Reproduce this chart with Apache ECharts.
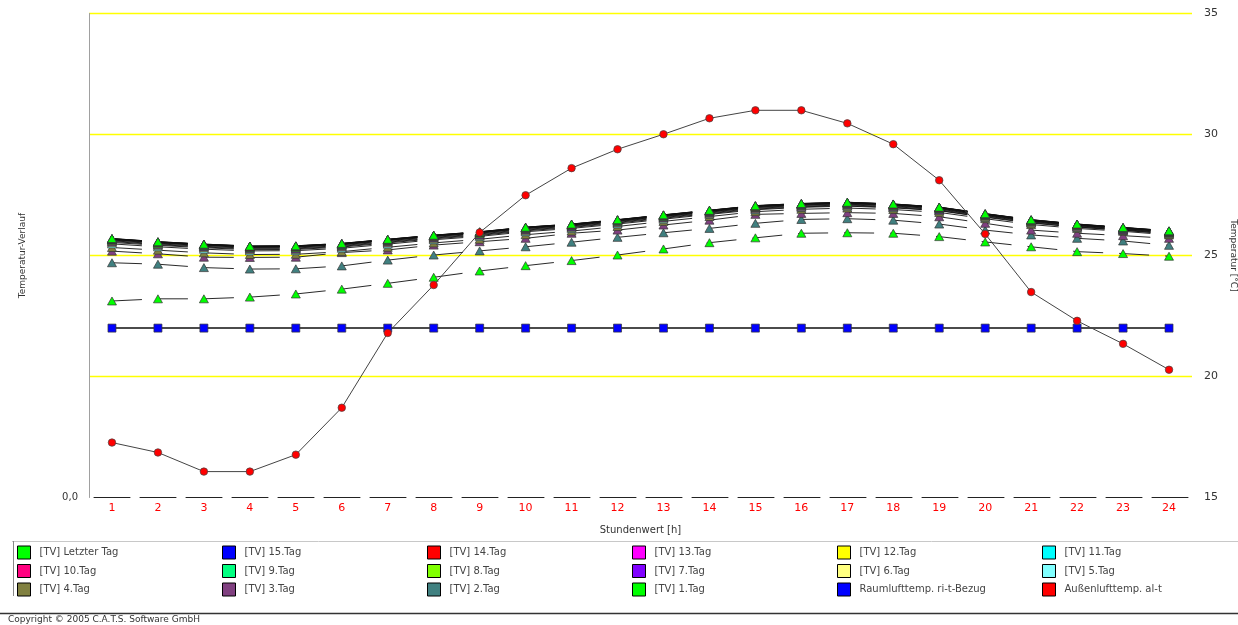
<!DOCTYPE html>
<html><head><meta charset="utf-8">
<script src="https://cdn.jsdelivr.net/npm/echarts@6/dist/echarts.min.js"></script>
<style>html,body{margin:0;padding:0;background:#fff}#c{width:1238px;height:625px}</style>
</head><body><div id="c"></div>
<script>
const hours = ['1','2','3','4','5','6','7','8','9','10','11','12','13','14','15','16','17','18','19','20','21','22','23','24'];
const leftAxisLabels = ['0,0'];

const letzterTag = [25.70,25.57,25.47,25.39,25.40,25.50,25.67,25.84,25.98,26.17,26.30,26.48,26.68,26.87,27.06,27.15,27.20,27.13,27.00,26.73,26.48,26.30,26.16,26.02];
const tag15 = [25.70,25.57,25.47,25.39,25.40,25.50,25.67,25.84,25.98,26.17,26.30,26.48,26.68,26.87,27.06,27.15,27.20,27.13,27.00,26.73,26.48,26.30,26.16,26.02];
const tag14 = [25.69,25.56,25.46,25.38,25.39,25.49,25.66,25.83,25.97,26.16,26.29,26.47,26.67,26.86,27.05,27.14,27.19,27.12,26.99,26.72,26.47,26.29,26.15,26.01];
const tag13 = [25.69,25.56,25.46,25.38,25.39,25.49,25.66,25.83,25.97,26.16,26.29,26.47,26.67,26.86,27.05,27.14,27.19,27.12,26.99,26.72,26.47,26.29,26.15,26.01];
const tag12 = [25.68,25.55,25.45,25.37,25.38,25.48,25.65,25.82,25.96,26.15,26.28,26.46,26.66,26.85,27.04,27.13,27.18,27.11,26.98,26.71,26.46,26.28,26.14,26.00];
const tag11 = [25.67,25.54,25.44,25.36,25.37,25.47,25.64,25.81,25.95,26.14,26.27,26.45,26.65,26.84,27.03,27.12,27.17,27.10,26.97,26.70,26.45,26.27,26.13,25.99];
const tag10 = [25.66,25.53,25.43,25.35,25.36,25.46,25.63,25.80,25.94,26.13,26.26,26.44,26.64,26.83,27.02,27.11,27.16,27.09,26.96,26.69,26.44,26.26,26.12,25.98];
const tag9  = [25.64,25.51,25.41,25.33,25.34,25.44,25.61,25.78,25.92,26.11,26.24,26.42,26.62,26.81,27.00,27.09,27.14,27.07,26.94,26.67,26.43,26.25,26.11,25.97];
const tag8  = [25.61,25.48,25.38,25.30,25.31,25.41,25.58,25.75,25.89,26.08,26.22,26.40,26.60,26.79,26.98,27.07,27.12,27.05,26.92,26.65,26.41,26.23,26.09,25.95];
const tag7  = [25.58,25.45,25.35,25.27,25.28,25.38,25.55,25.72,25.86,26.05,26.19,26.37,26.57,26.76,26.95,27.04,27.09,27.02,26.89,26.63,26.39,26.21,26.07,25.93];
const tag6  = [25.54,25.42,25.32,25.24,25.25,25.35,25.52,25.69,25.83,26.02,26.16,26.34,26.54,26.73,26.92,27.01,27.06,26.99,26.86,26.60,26.36,26.18,26.05,25.91];
const tag5  = [25.48,25.36,25.26,25.19,25.20,25.30,25.47,25.65,25.79,25.98,26.12,26.30,26.50,26.70,26.89,26.99,27.04,26.97,26.85,26.58,26.34,26.17,26.04,25.89];
const tag4  = [25.33,25.22,25.11,25.04,25.05,25.16,25.34,25.52,25.67,25.86,26.01,26.20,26.41,26.61,26.81,26.91,26.96,26.90,26.78,26.52,26.28,26.12,26.00,25.85];
const tag3  = [25.18,25.07,24.93,24.92,24.93,25.12,25.23,25.43,25.57,25.71,25.92,26.05,26.26,26.46,26.70,26.74,26.77,26.74,26.60,26.33,26.05,25.92,25.82,25.71];
const tag2  = [24.70,24.64,24.50,24.44,24.45,24.57,24.81,25.02,25.19,25.36,25.55,25.75,25.94,26.12,26.33,26.49,26.52,26.46,26.30,26.05,25.85,25.71,25.60,25.42];
const tag1  = [23.12,23.21,23.21,23.28,23.41,23.61,23.85,24.10,24.36,24.58,24.79,25.02,25.27,25.53,25.73,25.92,25.94,25.92,25.78,25.56,25.36,25.16,25.08,24.97];
const raumluft = [22.0,22.0,22.0,22.0,22.0,22.0,22.0,22.0,22.0,22.0,22.0,22.0,22.0,22.0,22.0,22.0,22.0,22.0,22.0,22.0,22.0,22.0,22.0,22.0];
const aussenluft = [17.27,16.86,16.07,16.07,16.77,18.71,21.80,23.78,25.95,27.49,28.61,29.39,30.01,30.67,31.00,31.00,30.46,29.60,28.11,25.89,23.49,22.30,21.35,20.28];

const FONT = 'DejaVu Sans';
const tvDefs = [
  ['[TV] 1.Tag', '#00ff00', tag1],
  ['[TV] 2.Tag', '#408080', tag2],
  ['[TV] 3.Tag', '#804080', tag3],
  ['[TV] 4.Tag', '#808040', tag4],
  ['[TV] 5.Tag', '#80ffff', tag5],
  ['[TV] 6.Tag', '#ffff80', tag6],
  ['[TV] 7.Tag', '#8000ff', tag7],
  ['[TV] 8.Tag', '#80ff00', tag8],
  ['[TV] 9.Tag', '#00ff80', tag9],
  ['[TV] 10.Tag', '#ff0080', tag10],
  ['[TV] 11.Tag', '#00ffff', tag11],
  ['[TV] 12.Tag', '#ffff00', tag12],
  ['[TV] 13.Tag', '#ff00ff', tag13],
  ['[TV] 14.Tag', '#ff0000', tag14],
  ['[TV] 15.Tag', '#0000ff', tag15],
  ['[TV] Letzter Tag', '#00ff00', letzterTag]
];
const series = tvDefs.map(([name, color, data]) => ({
  name, type: 'line', yAxisIndex: 1, data,
  symbol: 'triangle', symbolSize: [9, 8],
  itemStyle: { color, borderColor: '#333', borderWidth: 0.7 },
  lineStyle: { color: '#111', width: 0.9, type: [30, 16] },
  emphasis: { disabled: true }
}));
series.push({
  name: 'Raumlufttemp. ri-t-Bezug', type: 'line', yAxisIndex: 1, data: raumluft,
  symbol: 'rect', symbolSize: 8,
  itemStyle: { color: '#0000ff', borderColor: '#333', borderWidth: 0.7 },
  lineStyle: { color: '#111', width: 1.5 }, emphasis: { disabled: true }
});
series.push({
  name: 'Außenlufttemp. al-t', type: 'line', yAxisIndex: 1, data: aussenluft,
  symbol: 'circle', symbolSize: 7.5,
  itemStyle: { color: '#ff0000', borderColor: '#444', borderWidth: 0.7 },
  lineStyle: { color: '#444', width: 1 }, emphasis: { disabled: true }
});

const legendCols = [
  ['[TV] Letzter Tag', '[TV] 10.Tag', '[TV] 4.Tag'],
  ['[TV] 15.Tag', '[TV] 9.Tag', '[TV] 3.Tag'],
  ['[TV] 14.Tag', '[TV] 8.Tag', '[TV] 2.Tag'],
  ['[TV] 13.Tag', '[TV] 7.Tag', '[TV] 1.Tag'],
  ['[TV] 12.Tag', '[TV] 6.Tag', 'Raumlufttemp. ri-t-Bezug'],
  ['[TV] 11.Tag', '[TV] 5.Tag', 'Außenlufttemp. al-t']
];
const legends = legendCols.map((names, i) => ({
  orient: 'vertical', left: 17 + i * 205, top: 545.5, padding: 0,
  itemWidth: 13, itemHeight: 13, itemGap: 4.5, icon: 'rect', selectedMode: false,
  itemStyle: { borderColor: '#000', borderWidth: 1 },
  textStyle: { fontFamily: FONT, fontSize: 10, color: '#444', padding: [0, 0, 0, 4] },
  data: names
}));

const chart = echarts.init(document.getElementById('c'), null, { renderer: 'canvas' });
chart.setOption({
  animation: false,
  backgroundColor: '#fff',
  grid: { left: 89, right: 46, top: 13.5, bottom: 127.5, containLabel: false, outerBoundsMode: 'none' },
  legend: legends,
  xAxis: {
    type: 'category', data: hours, boundaryGap: true,
    axisLine: { onZero: false, lineStyle: { color: '#222', width: 1, type: [36, 10], dashOffset: 41 } },
    axisTick: { alignWithLabel: true, length: 2, lineStyle: { color: '#666' } },
    axisLabel: { color: '#ff0000', fontSize: 11, margin: 5, fontFamily: FONT },
    name: 'Stundenwert [h]', nameLocation: 'middle', nameGap: 28,
    nameTextStyle: { color: '#333', fontSize: 10, fontFamily: FONT }
  },
  yAxis: [
    {
      type: 'value', position: 'left', min: 0, max: 1, interval: 1,
      axisLine: { show: true, lineStyle: { color: '#a0a0a0', width: 1 } },
      axisTick: { show: false }, splitLine: { show: false },
      axisLabel: { formatter: v => (v === 0 ? leftAxisLabels[0] : ''), color: '#333', fontSize: 10, margin: 11, fontFamily: FONT },
      name: 'Temperatur-Verlauf', nameLocation: 'middle', nameGap: 62,
      nameTextStyle: { color: '#333', fontSize: 9, fontFamily: FONT }
    },
    {
      type: 'value', position: 'right', min: 15, max: 35, interval: 5,
      axisLine: { show: false }, axisTick: { show: false },
      splitLine: { show: true, showMinLine: false, lineStyle: { color: '#ffff00', width: 1.3 } },
      axisLabel: { color: '#333', fontSize: 11, margin: 12, fontFamily: FONT },
      name: 'Temperatur [°C]', nameLocation: 'middle', nameGap: 33, nameRotate: -90,
      nameTextStyle: { color: '#333', fontSize: 9, fontFamily: FONT }
    }
  ],
  graphic: [
    { type: 'line', shape: { x1: 12, y1: 541.5, x2: 1238, y2: 541.5 }, style: { stroke: '#c8c8c8', lineWidth: 1 }, silent: true },
    { type: 'line', shape: { x1: 13.5, y1: 541, x2: 13.5, y2: 596 }, style: { stroke: '#888', lineWidth: 1 }, silent: true },
    { type: 'line', shape: { x1: 0, y1: 613.5, x2: 1238, y2: 613.5 }, style: { stroke: '#333', lineWidth: 1.5 }, silent: true },
    { type: 'text', left: 8, top: 615, style: { text: 'Copyright © 2005 C.A.T.S. Software GmbH', fontFamily: FONT, fontSize: 9, fill: '#333' }, silent: true }
  ],
  series
});
</script>
</body></html>
